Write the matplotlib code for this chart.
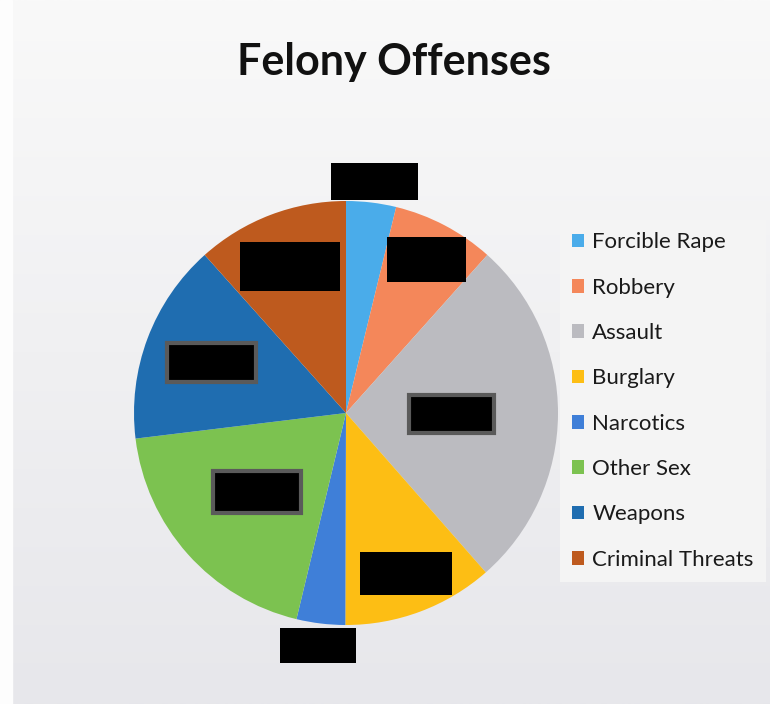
import numpy as np
import matplotlib.pyplot as plt
from matplotlib.patches import Rectangle

categories = ['Forcible Rape', 'Robbery', 'Assault', 'Burglary',
              'Narcotics', 'Other Sex', 'Weapons', 'Criminal Threats']
values = [3.8, 7.8, 26.9, 11.5, 3.7, 19.3, 15.3, 11.6]
colors = ['#4aacea', '#f4875a', '#bbbbc0', '#fdbe14',
          '#3f7fd8', '#7cc250', '#1f6db0', '#be5a1e']

# redaction boxes over the data labels (distance from centre, box size in px)
label_r = [1.11, 0.82, 0.50, 0.81, 1.12, 0.56, 0.68, 0.74]
box_w = [87, 79, 85, 92, 76, 88, 89, 100]
box_h = [42, 45, 38, 43, 41, 42, 39, 49]
box_halo = [False, False, True, False, False, True, True, False]

W, H = 770, 704
R = 212.0
cx, cy = 346, 413

fig = plt.figure(figsize=(W / 100, H / 100), dpi=100)

# scanned page background
bg = fig.add_axes([0, 0, 1, 1])
grad = np.linspace(0, 1, 256)[:, None]
bg.imshow(grad, aspect='auto', cmap=plt.matplotlib.colors.LinearSegmentedColormap.from_list(
    'pg', ['#f9f9f9', '#e7e7eb']), extent=[0, 1, 0, 1], origin='upper')
bg.add_patch(Rectangle((0, 0), 12 / W, 1, color='#fdfdfd'))
bg.set_xlim(0, 1)
bg.set_ylim(0, 1)
bg.axis('off')

half = 250
ax = fig.add_axes([(cx - half) / W, (H - cy - half) / H, 2 * half / W, 2 * half / H])

wedges, _ = ax.pie(values, colors=colors, startangle=90, counterclock=False,
                   radius=1.0, wedgeprops=dict(linewidth=0))
ax.set_xlim(-half / R, half / R)
ax.set_ylim(-half / R, half / R)
ax.set_aspect('equal')
ax.axis('off')

for w, r, bw, bh, halo in zip(wedges, label_r, box_w, box_h, box_halo):
    mid = np.deg2rad((w.theta1 + w.theta2) / 2)
    x, y = r * np.cos(mid), r * np.sin(mid)
    bw, bh = bw / R, bh / R
    ax.add_patch(Rectangle((x - bw / 2, y - bh / 2), bw, bh, facecolor='black',
                           edgecolor='#5a5a5a' if halo else 'black',
                           linewidth=3 if halo else 0, zorder=5))

fig.text(394 / W, 1 - 62 / H, 'Felony Offenses', fontsize=31, fontweight='bold',
         family='Lato', ha='center', va='center', color='#111111')

fs = 16
leg = fig.legend(wedges, categories, loc='center left',
                 bbox_to_anchor=(560 / W, 1 - 401 / H), frameon=True, fancybox=False,
                 prop=dict(family='Lato', size=fs),
                 handlelength=0.55, handleheight=0.55, handletextpad=0.35,
                 labelspacing=1.14, borderpad=0.55, borderaxespad=0)
leg.get_frame().set_facecolor('#f4f4f4')
leg.get_frame().set_edgecolor('none')
leg.get_frame().set_alpha(1)
for t in leg.get_texts():
    t.set_color('#1a1a1a')

fig.savefig('out.png', dpi=100)
